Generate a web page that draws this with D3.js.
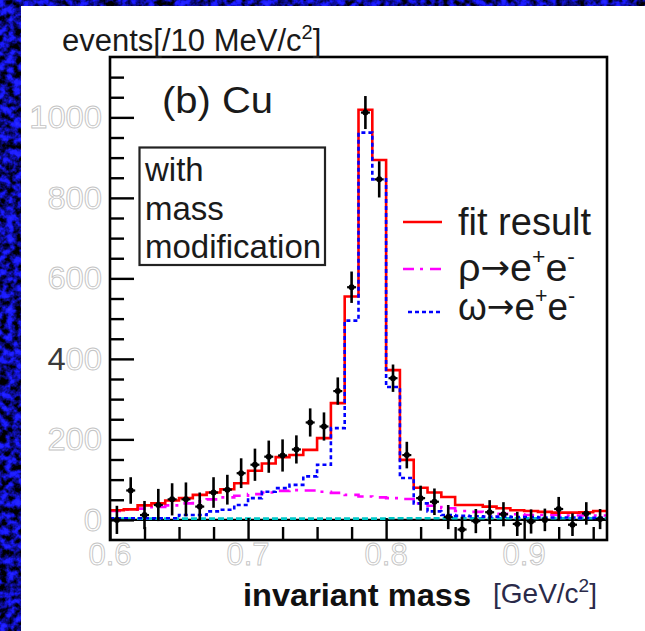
<!DOCTYPE html>
<html><head><meta charset="utf-8">
<script src="https://cdn.jsdelivr.net/npm/d3@7"></script>
<style>html,body{margin:0;padding:0;background:#fff;}svg{display:block;}</style>
</head><body>
<svg id="chart" width="645" height="631"></svg>
<script>
// Invariant-mass bins (lower edges, GeV/c^2), 10 MeV wide
const binLow = [0.60,0.61,0.62,0.63,0.64,0.65,0.66,0.67,0.68,0.69,0.70,0.71,0.72,0.73,0.74,0.75,0.76,0.77,
                0.78,0.79,0.80,0.81,0.82,0.83,0.84,0.85,0.86,0.87,0.88,0.89,0.90,0.91,0.92,0.93,0.94,0.95];
const binWidth = 0.01;
// measured counts per bin and their errors
const dataCounts = [0,73,12,37,51,51,33,68,75,116,137,157,160,175,242,232,320,578,
                    1012,846,352,161,54,45,7,-24,-3,19,14,-10,-4,0,27,-12,16,2];
const dataErrors = [35,33,35,40,40,42,35,38,37,37,40,40,40,35,35,35,34,39,
                    41,45,34,33,31,33,30,32,30,30,30,30,30,28,30,28,28,25];
// fit components
const fitTotal  = [24,26,36,41,48,54,62,68,76,91,122,140,156,161,174,203,290,555,
                   1019,894,372,149,80,68,57,37,37,33,29,24,22,20,18,18,19,22];
const rhoComp   = [22,25,28,32,36,41,46,51,56,60,64,68,72,74,73,70,67,62,
                   58,56,54,52,41,35,29,22,20,16,15,14,12,12,12,11,11,11];
const omegaComp = [4,4,4,4,4,12,12,21,25,37,54,70,79,87,108,137,228,495,
                   962,846,330,104,41,21,12,10,9,8,8,7,7,6,6,6,5,5];
const bgComp    = [3,3,3,3,3,3,3,3,3,3,3,3,3,3,3,3,3,3,
                   3,3,4,4,4,4,4,4,4,4,4,4,4,4,4,4,4,4];
// axes
const yMajorTicks = [0,200,400,600,800,1000];
const yTickLabels = ["0","200","400","600","800","1000"];
const xMajorTicks = [0.6,0.7,0.8,0.9];
const xTickLabels = ["0.6","0.7","0.8","0.9"];
const boxLines = ["with","mass","modification"];

const svg = d3.select("#chart");
const W = 645, H = 631;
const fr = {left:110, right:607, top:57, bottom:540};
const x = d3.scaleLinear().domain([0.6, 0.96]).range([fr.left, fr.right]);
const y = d3.scaleLinear().domain([-50, 1150]).range([fr.bottom, fr.top]);

// slide background texture
const defs = svg.append("defs");
const flt = defs.append("filter").attr("id","speckle").attr("color-interpolation-filters","sRGB")
  .attr("filterUnits","userSpaceOnUse").attr("x",0).attr("y",0).attr("width",W).attr("height",H);
flt.append("feTurbulence").attr("type","fractalNoise").attr("baseFrequency",0.14)
  .attr("numOctaves",3).attr("seed",11).attr("result","n");
flt.append("feColorMatrix").attr("type","matrix")
  .attr("values","0.3 0 0 0 -0.1  0.3 0 0 0 -0.1  2.7 0 0 0 -0.78  0 0 0 0 1");
svg.append("rect").attr("width",W).attr("height",H).attr("fill","#000").attr("filter","url(#speckle)");
svg.append("rect").attr("x",21).attr("y",6).attr("width",W-21).attr("height",H-6).attr("fill","#fff");

defs.append("clipPath").attr("id","plotClip").append("rect")
  .attr("x",fr.left).attr("y",fr.top).attr("width",fr.right-fr.left).attr("height",fr.bottom-fr.top);

const plot = svg.append("g").attr("clip-path","url(#plotClip)");

// zero line
plot.append("line").attr("x1",fr.left).attr("x2",fr.right).attr("y1",y(0)).attr("y2",y(0))
  .attr("stroke","#000").attr("stroke-width",2.2);

// step histograms
function stepPath(vals){
  const pts = vals.map((v,i)=>[binLow[i], v]);
  pts.push([binLow[binLow.length-1]+binWidth, vals[vals.length-1]]);
  return d3.line().x(d=>x(d[0])).y(d=>y(d[1])).curve(d3.curveStepAfter)(pts);
}
const hists = [
  {vals:bgComp,    color:"#00c8c8", dash:"6,3"},
  {vals:rhoComp,   color:"#ff00ff", dash:"11,6,3,7"},
  {vals:fitTotal,  color:"#ff0000", dash:null},
  {vals:omegaComp, color:"#0000ff", dash:"4,3"}
];
hists.forEach(h=>{
  plot.append("path").attr("d",stepPath(h.vals)).attr("fill","none")
    .attr("stroke",h.color).attr("stroke-width",2.6)
    .attr("stroke-dasharray",h.dash);
});

// data points with error bars
const pts = plot.append("g");
dataCounts.forEach((v,i)=>{
  const cx = x(binLow[i]+binWidth/2);
  pts.append("line").attr("x1",cx).attr("x2",cx)
    .attr("y1",y(v-dataErrors[i])).attr("y2",y(v+dataErrors[i]))
    .attr("stroke","#000").attr("stroke-width",2.6);
  pts.append("line").attr("x1",cx-4.5).attr("x2",cx+4.5).attr("y1",y(v)).attr("y2",y(v))
    .attr("stroke","#000").attr("stroke-width",2.2);
  pts.append("circle").attr("cx",cx).attr("cy",y(v)).attr("r",3).attr("fill","#000");
});

// frame
svg.append("rect").attr("x",fr.left).attr("y",fr.top).attr("width",fr.right-fr.left)
  .attr("height",fr.bottom-fr.top).attr("fill","none").attr("stroke","#000").attr("stroke-width",2.6);

// y ticks (inside, on left edge)
const yMinor = y.ticks(24).filter(t=>t>-50 && t<1150 && !yMajorTicks.includes(t));
function styleAxis(g){ g.select(".domain").remove(); g.selectAll("line").attr("stroke","#000").attr("stroke-width",2.4); g.selectAll("text").remove(); }
svg.append("g").attr("transform",`translate(${fr.left},0)`)
  .call(d3.axisRight(y).tickValues(yMinor).tickSize(14)).call(styleAxis);
svg.append("g").attr("transform",`translate(${fr.left},0)`)
  .call(d3.axisRight(y).tickValues(yMajorTicks).tickSize(24)).call(styleAxis);

// x ticks (inside, on bottom edge)
const xMinor = d3.range(0.625, 0.96, 0.025).filter(t=>!xMajorTicks.some(m=>Math.abs(m-t)<1e-6));
svg.append("g").attr("transform",`translate(0,${fr.bottom})`)
  .call(d3.axisTop(x).tickValues(xMinor).tickSize(13)).call(styleAxis);
svg.append("g").attr("transform",`translate(0,${fr.bottom})`)
  .call(d3.axisTop(x).tickValues(xMajorTicks).tickSize(22)).call(styleAxis);

// tick labels (light outlined digits)
const lblFont = "Liberation Sans, Arial, sans-serif";
const yl = svg.append("g").attr("font-family",lblFont).attr("font-size",31)
  .attr("fill","#ffffff").attr("stroke","#c4c4c4").attr("stroke-width",0.9).attr("text-anchor","end");
yMajorTicks.forEach((t,i)=>{
  const txt = yl.append("text").attr("x",102).attr("y",y(t)+11)
    .attr("textLength",yTickLabels[i].length*18.2).attr("lengthAdjust","spacingAndGlyphs");
  if (yTickLabels[i]==="400"){
    txt.append("tspan").attr("fill","#3a3a3a").attr("stroke","none").text("4");
    txt.append("tspan").text("00");
  } else txt.text(yTickLabels[i]);
});
const xl = svg.append("g").attr("font-family",lblFont).attr("font-size",31)
  .attr("fill","#ffffff").attr("stroke","#c4c4c4").attr("stroke-width",0.9).attr("text-anchor","middle");
xMajorTicks.forEach((t,i)=>{
  xl.append("text").attr("x",x(t)).attr("y",565).text(xTickLabels[i]);
});

// titles
const txtFont = "Liberation Sans, Arial, sans-serif";
const yt = svg.append("text").attr("x",62).attr("y",51).attr("font-family",txtFont)
  .attr("font-size",31).attr("fill","#1a1a1a");
yt.append("tspan").text("events[/10 MeV/c");
yt.append("tspan").attr("font-size",20).attr("dy",-12).text("2");
yt.append("tspan").attr("dy",12).text("]");

svg.append("text").attr("x",162).attr("y",113).attr("font-family",txtFont).attr("font-size",36)
  .attr("fill","#1a1a1a").attr("textLength",111).attr("lengthAdjust","spacingAndGlyphs").text("(b) Cu");

// annotation box
svg.append("rect").attr("x",139.5).attr("y",147.5).attr("width",185.5).attr("height",117.5)
  .attr("fill","none").attr("stroke","#222").attr("stroke-width",2.2);
const boxBase = [181,220,258];
boxLines.forEach((s,i)=>{
  svg.append("text").attr("x",145).attr("y",boxBase[i]).attr("font-family",txtFont)
    .attr("font-size",33).attr("fill","#1a1a1a").text(s);
});

// legend
const legend = [
  {color:"#ff0000", dash:null,        y:222, x1:403, label:["fit result"]},
  {color:"#ff00ff", dash:"11,6,3,7",  y:269, x1:403, label:["ρ","→","e","+","e","-"]},
  {color:"#0000ff", dash:"4,3",       y:312, x1:408, label:["ω","→","e","+","e","-"]}
];
const legBase = [235,281,320];
legend.forEach((d,i)=>{
  svg.append("line").attr("x1",d.x1).attr("x2",442).attr("y1",d.y).attr("y2",d.y)
    .attr("stroke",d.color).attr("stroke-width",2.6).attr("stroke-dasharray",d.dash);
  const t = svg.append("text").attr("x",458).attr("y",legBase[i]).attr("font-family",txtFont)
    .attr("font-size",38).attr("fill","#1a1a1a");
  if (d.label.length===1) t.text(d.label[0]);
  else {
    t.attr("textLength",117).attr("lengthAdjust","spacingAndGlyphs");
    t.append("tspan").text(d.label[0]);
    t.append("tspan").attr("font-family","DejaVu Sans").attr("font-size",34).attr("dy",-2).text(d.label[1]);
    t.append("tspan").attr("dy",2).text(d.label[2]);
    t.append("tspan").attr("font-size",22).attr("dy",-17).text(d.label[3]);
    t.append("tspan").attr("dy",17).text(d.label[4]);
    t.append("tspan").attr("font-size",22).attr("dy",-17).text(d.label[5]);
  }
});

// x title
svg.append("text").attr("x",243).attr("y",606).attr("font-family",txtFont).attr("font-weight","bold")
  .attr("font-size",32).attr("fill","#111").attr("textLength",228).attr("lengthAdjust","spacingAndGlyphs")
  .text("invariant mass");
const xu = svg.append("text").attr("x",493).attr("y",603).attr("font-family",txtFont)
  .attr("font-size",28).attr("fill","#2a2a4a");
xu.append("tspan").text("[GeV/c");
xu.append("tspan").attr("font-size",19).attr("dy",-11).text("2");
xu.append("tspan").attr("dy",11).text("]");
</script>
</body></html>
